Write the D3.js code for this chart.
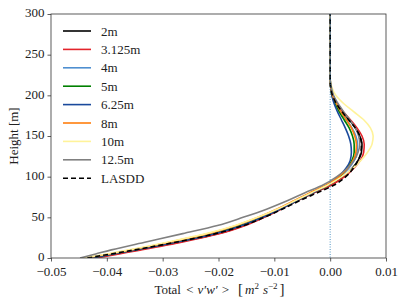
<!DOCTYPE html>
<html>
<head>
<meta charset="utf-8">
<script src="https://cdn.jsdelivr.net/npm/d3@7"></script>
<style>
  body { margin: 0; background: #fff; }
  text { font-family: "Liberation Serif", "DejaVu Serif", serif; }
</style>
</head>
<body>
<div id="chart-area"></div>
<script>
// heights (m) shared by every profile
var heights = [0, 5, 10, 20, 30, 40, 50, 60, 70, 80, 90, 100, 110, 120, 130, 140, 150, 160, 170, 180, 190, 200, 210, 220, 300];

var res2m    = [-0.0425, -0.0385, -0.0345, -0.0267, -0.0200, -0.0155, -0.0120, -0.0090, -0.0060, -0.0030, 0.0002, 0.0024, 0.0039, 0.0050, 0.0056, 0.0057, 0.0053, 0.0045, 0.0034, 0.0022, 0.0012, 0.0005, 0.0001, 0, 0];
var res3125m = [-0.0418, -0.0378, -0.0338, -0.0262, -0.0197, -0.0152, -0.0118, -0.0088, -0.0060, -0.0030, 0.0003, 0.0026, 0.0042, 0.0054, 0.0060, 0.0061, 0.0057, 0.0048, 0.0036, 0.0023, 0.0012, 0.0005, 0.0001, 0, 0];
var res4m    = [-0.0432, -0.0392, -0.0352, -0.0278, -0.0212, -0.0163, -0.0125, -0.0093, -0.0064, -0.0035, -0.0004, 0.0018, 0.0033, 0.0043, 0.0048, 0.0049, 0.0046, 0.0039, 0.0029, 0.0019, 0.0010, 0.0004, 0.0001, 0, 0];
var res5m    = [-0.0430, -0.0390, -0.0350, -0.0275, -0.0209, -0.0160, -0.0123, -0.0091, -0.0062, -0.0033, -0.0003, 0.0017, 0.0030, 0.0039, 0.0043, 0.0043, 0.0040, 0.0034, 0.0025, 0.0016, 0.0009, 0.0003, 0.0001, 0, 0];
var res625m  = [-0.0428, -0.0388, -0.0348, -0.0272, -0.0206, -0.0158, -0.0121, -0.0090, -0.0061, -0.0032, -0.0004, 0.0015, 0.0028, 0.0036, 0.0038, 0.0037, 0.0033, 0.0027, 0.0020, 0.0013, 0.0007, 0.0003, 0.0001, 0, 0];
var res8m    = [-0.0438, -0.0396, -0.0356, -0.0284, -0.0218, -0.0168, -0.0129, -0.0096, -0.0066, -0.0037, -0.0006, 0.0016, 0.0031, 0.0041, 0.0046, 0.0047, 0.0044, 0.0038, 0.0029, 0.0019, 0.0011, 0.0004, 0.0001, 0, 0];
var res10m   = [-0.0442, -0.0400, -0.0360, -0.0288, -0.0222, -0.0170, -0.0130, -0.0095, -0.0064, -0.0034, -0.0003, 0.0021, 0.0040, 0.0055, 0.0067, 0.0075, 0.0077, 0.0072, 0.0060, 0.0042, 0.0024, 0.0010, 0.0003, 0, 0];
var res125m  = [-0.0448, -0.0420, -0.0392, -0.0328, -0.0264, -0.0202, -0.0156, -0.0114, -0.0078, -0.0046, -0.0012, 0.0012, 0.0030, 0.0043, 0.0050, 0.0053, 0.0051, 0.0045, 0.0035, 0.0024, 0.0014, 0.0006, 0.0002, 0, 0];
var lasdd    = [-0.0435, -0.0392, -0.0350, -0.0272, -0.0205, -0.0155, -0.0118, -0.0086, -0.0056, -0.0024, 0.0008, 0.0028, 0.0041, 0.0050, 0.0055, 0.0056, 0.0053, 0.0045, 0.0033, 0.0021, 0.0011, 0.0004, 0.0001, 0, 0];

var names  = ["2m", "3.125m", "4m", "5m", "6.25m", "8m", "10m", "12.5m", "LASDD"];
var colors = ["#000000", "#e3242b", "#4f8fd0", "#008000", "#1a4a9c", "#ff7f0e", "#fff39a", "#808080", "#000000"];
var series = [res2m, res3125m, res4m, res5m, res625m, res8m, res10m, res125m, lasdd];

var xTicks = [-0.05, -0.04, -0.03, -0.02, -0.01, 0.00, 0.01];
var yTicks = [0, 50, 100, 150, 200, 250, 300];

var margin = {top: 14, right: 21, bottom: 47, left: 51};
var width = 407 - margin.left - margin.right;
var height = 305 - margin.top - margin.bottom;

var svg = d3.select("#chart-area")
  .append("svg")
    .attr("width", 407)
    .attr("height", 305);

var g = svg.append("g")
    .attr("transform", "translate(" + margin.left + "," + margin.top + ")");

var x = d3.scaleLinear().domain([-0.05, 0.01]).range([0, width]);
var y = d3.scaleLinear().domain([0, 300]).range([height, 0]);

g.append("clipPath").attr("id", "clip")
  .append("rect").attr("width", width).attr("height", height);

var plot = g.append("g").attr("clip-path", "url(#clip)");

var line = d3.line()
    .x(function(d) { return x(d[0]); })
    .y(function(d) { return y(d[1]); })
    .curve(d3.curveMonotoneY);

series.forEach(function(vals, i) {
  var pts = vals.map(function(v, j) { return [v, heights[j]]; });
  plot.append("path")
    .datum(pts)
    .attr("fill", "none")
    .attr("stroke", colors[i])
    .attr("stroke-width", 1.6)
    .attr("stroke-dasharray", names[i] == "LASDD" ? "5,3" : null)
    .attr("d", line);
});

// zero line
plot.append("line")
  .attr("x1", x(0)).attr("x2", x(0))
  .attr("y1", 0).attr("y2", height)
  .attr("stroke", "#1f77b4")
  .attr("stroke-width", 0.8)
  .attr("stroke-dasharray", "1,1.5");

// axes
var fmt = function(d) { return d3.format(".2f")(d).replace("-", "\u2212"); };

var xAxis = g.append("g")
    .attr("transform", "translate(0," + height + ")")
    .call(d3.axisBottom(x).tickValues(xTicks).tickFormat(fmt).tickSize(3.5).tickPadding(5));

var yAxis = g.append("g")
    .call(d3.axisLeft(y).tickValues(yTicks).tickSize(3.5).tickPadding(3));

[xAxis, yAxis].forEach(function(a) {
  a.select(".domain").remove();
  a.selectAll("line").attr("stroke", "#333").attr("stroke-width", 0.8);
  a.selectAll("text").attr("font-family", "Liberation Serif").attr("font-size", "13px").attr("fill", "#222");
});
yAxis.selectAll("text").attr("dy", "0.22em");

g.append("rect")
  .attr("width", width).attr("height", height)
  .attr("fill", "none")
  .attr("stroke", "#333")
  .attr("stroke-width", 0.8);

// axis labels
g.append("text")
  .attr("transform", "rotate(-90)")
  .attr("x", -height / 2)
  .attr("y", -33)
  .attr("text-anchor", "middle")
  .attr("font-size", "13px")
  .attr("fill", "#222")
  .text("Height [m]");

var xl = g.append("text")
  .attr("x", width / 2 + 1)
  .attr("y", height + 36)
  .attr("text-anchor", "middle")
  .attr("font-size", "13px")
  .attr("fill", "#222");
xl.append("tspan").text("Total ");
xl.append("tspan").attr("dx", 2).text("<");
xl.append("tspan").attr("dx", 4).attr("font-style", "italic").text("v\u2032w\u2032");
xl.append("tspan").attr("dx", 4).text(">");
xl.append("tspan").attr("dx", 9).attr("font-size", "15px").text("[");
xl.append("tspan").attr("dx", 2).attr("font-style", "italic").text("m");
xl.append("tspan").attr("font-size", "9px").attr("dy", -5).text("2");
xl.append("tspan").attr("dy", 5).attr("dx", 4).attr("font-style", "italic").text("s");
xl.append("tspan").attr("font-size", "9px").attr("dy", -5).text("\u22122");
xl.append("tspan").attr("dy", 5).attr("dx", 2).attr("font-size", "15px").text("]");

// legend
var legend = g.append("g").attr("transform", "translate(12,17)");
names.forEach(function(n, i) {
  var row = legend.append("g").attr("transform", "translate(0," + (i * 18.4) + ")");
  row.append("line")
    .attr("x1", 0).attr("x2", 28)
    .attr("stroke", colors[i])
    .attr("stroke-width", 1.6)
    .attr("stroke-dasharray", n == "LASDD" ? "5,3" : null);
  row.append("text")
    .attr("x", 38).attr("y", 4.5)
    .attr("font-size", "13px")
    .attr("fill", "#222")
    .text(n);
});
</script>
</body>
</html>
